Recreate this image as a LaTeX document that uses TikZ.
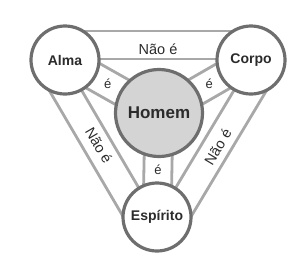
\documentclass[tikz,border=0pt]{standalone}
\usepackage{fontspec}
\setmainfont{Liberation Sans}
\usetikzlibrary{calc,backgrounds}
\definecolor{cinzaBorda}{HTML}{6E6E6E}
\definecolor{cinzaFaixa}{HTML}{A8A8A8}
\definecolor{cinzaMiolo}{HTML}{D4D4D4}
\definecolor{cinzaLetra}{HTML}{2B2B2B}
\begin{document}
\begin{tikzpicture}[x=1pt, y=-1pt,
      esfera/.style={circle, draw=cinzaBorda, line width=3.2pt, fill=#1,
                     minimum size=68pt, inner sep=0pt, text=cinzaLetra,
                     font=\fontsize{14}{16}\selectfont\bfseries},
      esfera/.default=white,
      faixa/.style={draw=cinzaFaixa, line width=2.8pt},
      rotulo/.style={text=cinzaLetra, inner sep=0pt,
                     font=\fontsize{14.5}{16}\selectfont}]
    \useasboundingbox (0,0) rectangle (307,271);
    \node[esfera]            (alma)     at (65,60)   {Alma};
    \node[esfera]            (corpo)    at (251,60)  {Corpo};
    \node[esfera]            (espirito) at (157,217) {Espírito};
    \node[esfera=cinzaMiolo, minimum size=87pt,
          font=\fontsize{17}{20}\selectfont\bfseries] (homem) at (159,113) {Homem};
    % faixas por tras dos circulos
    \begin{scope}[on background layer]
      \foreach \a/\b in {alma/corpo, corpo/espirito, espirito/alma}
        \foreach \d in {1,29}
          \draw[faixa] ($(\a)!\d pt!90:(\b)$) -- ($(\b)!\d pt!-90:(\a)$);
      \foreach \a/\b in {alma/homem, corpo/homem, homem/espirito}
        \foreach \d in {-14,14}
          \draw[faixa] ($(\a)!\d pt!90:(\b)$) -- ($(\b)!\d pt!-90:(\a)$);
    \end{scope}
    % rotulos
    \foreach \a/\b/\d in {alma/corpo/11, corpo/espirito/16, espirito/alma/14}
      \path ($(\a)!\d pt!90:(\b)$) -- ($(\b)!\d pt!-90:(\a)$)
        node[midway, sloped, rotulo] {Não é};
    \foreach \a/\b in {alma/homem, corpo/homem, homem/espirito}
      \path (\a) -- (\b) node[midway, rotulo, font=\fontsize{13}{15}\selectfont] {é};
  \end{tikzpicture}
\end{document}
